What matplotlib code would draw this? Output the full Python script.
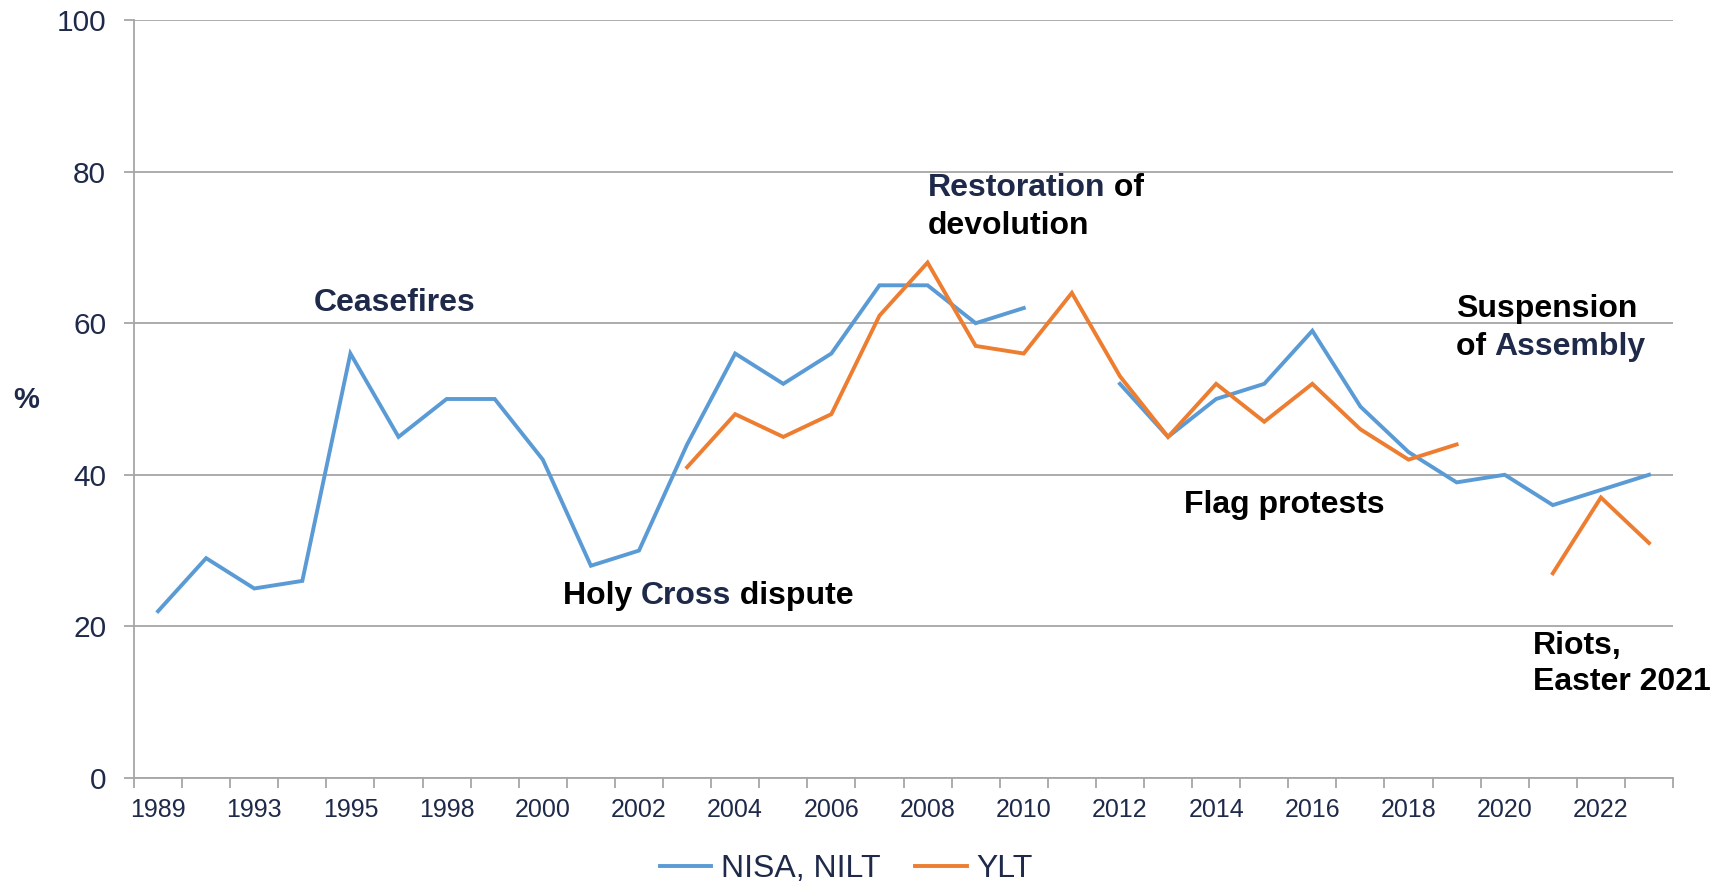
import matplotlib
matplotlib.use('Agg')
import matplotlib.pyplot as plt
import numpy as np

plt.rcParams['font.family'] = ['Liberation Sans', 'DejaVu Sans']

# survey years (category axis, one slot per survey)
years = ['1989', '1991', '1993', '1994', '1995', '1996', '1998', '1999',
         '2000', '2001', '2002', '2003', '2004', '2005', '2006', '2007',
         '2008', '2009', '2010', '2011', '2012', '2013', '2014', '2015',
         '2016', '2017', '2018', '2019', '2020', '2021', '2022', '2023']

nisa_nilt = [22, 29, 25, 26, 56, 45, 50, 50, 42, 28, 30, 44, 56, 52, 56, 65,
             65, 60, 62, None, 52, 45, 50, 52, 59, 49, 43, 39, 40, 36, 38, 40]
ylt = [None] * 11 + [41, 48, 45, 48, 61, 68, 57, 56, 64, 53, 45, 52, 47, 52,
                     46, 42, 44, None, 27, 37, 31]

NAVY = '#1F2A4A'
BLUE = '#5B9BD5'
ORANGE = '#ED7D31'
GRID = '#A6A6A6'

def to_arr(vals):
    return np.array([np.nan if v is None else v for v in vals], dtype=float)

fig = plt.figure(figsize=(17.2, 8.94), dpi=100)
ax = fig.add_axes([0.0779, 0.1298, 0.8948, 0.8478])

x = np.arange(len(years))
ax.plot(x, to_arr(nisa_nilt), color=BLUE, lw=2.8, label='NISA, NILT',
        solid_joinstyle='miter')
ax.plot(x, to_arr(ylt), color=ORANGE, lw=2.8, label='YLT',
        solid_joinstyle='miter')

ax.set_xlim(-0.5, len(years) - 0.5)
ax.set_ylim(0, 100)
ax.set_yticks(range(0, 101, 20))
ax.yaxis.grid(True, color=GRID, lw=1.3)
ax.set_axisbelow(True)
for s in ['top', 'right']:
    ax.spines[s].set_visible(False)
for s in ['left', 'bottom']:
    ax.spines[s].set_color(GRID)
    ax.spines[s].set_linewidth(1.3)

ax.set_xticks(x[::2])
ax.set_xticklabels(years[::2])
ax.set_xticks(np.arange(-0.5, len(years)), minor=True)
ax.tick_params(axis='x', which='major', length=0, pad=14.5, labelsize=18,
               labelcolor=NAVY)
ax.tick_params(axis='x', which='minor', length=7, width=1.3, color=GRID)
ax.tick_params(axis='y', length=7, width=1.3, color=GRID, pad=13,
               labelsize=21.5, labelcolor=NAVY)

fig.text(0.015, 0.553, '%', fontsize=21, fontweight='bold', color=NAVY,
         ha='center', va='center')

# annotations, some words coloured differently
def label(x0, y0, pieces):
    prev = None
    for txt, col in pieces:
        if prev is None:
            prev = ax.text(x0, y0, txt, color=col, fontsize=23,
                           fontweight='bold', ha='left', va='center')
        else:
            prev = ax.annotate(txt, xy=(1, 0), xycoords=prev, color=col,
                               fontsize=23, fontweight='bold',
                               ha='left', va='bottom')

label(3.24, 62.7, [('Ceasefires', NAVY)])
label(16.0, 77.9, [('Restoration', NAVY), (' of', 'black')])
label(16.0, 72.8, [('devolution', 'black')])
label(8.42, 24.0, [('Holy ', 'black'), ('Cross', NAVY), (' dispute', 'black')])
label(26.98, 61.9, [('Suspension', 'black')])
label(26.98, 56.9, [('of ', 'black'), ('Assembly', NAVY)])
label(21.33, 36.0, [('Flag protests', 'black')])
label(28.58, 17.4, [('Riots,', 'black')])
label(28.58, 12.6, [('Easter 2021', 'black')])

leg = fig.legend(loc='center', bbox_to_anchor=(0.492, 0.028), ncol=2,
                 frameon=False, fontsize=23, handlelength=1.6,
                 handletextpad=0.3, columnspacing=1.1)
for t in leg.get_texts():
    t.set_color(NAVY)

fig.savefig('out.png', dpi=100)
